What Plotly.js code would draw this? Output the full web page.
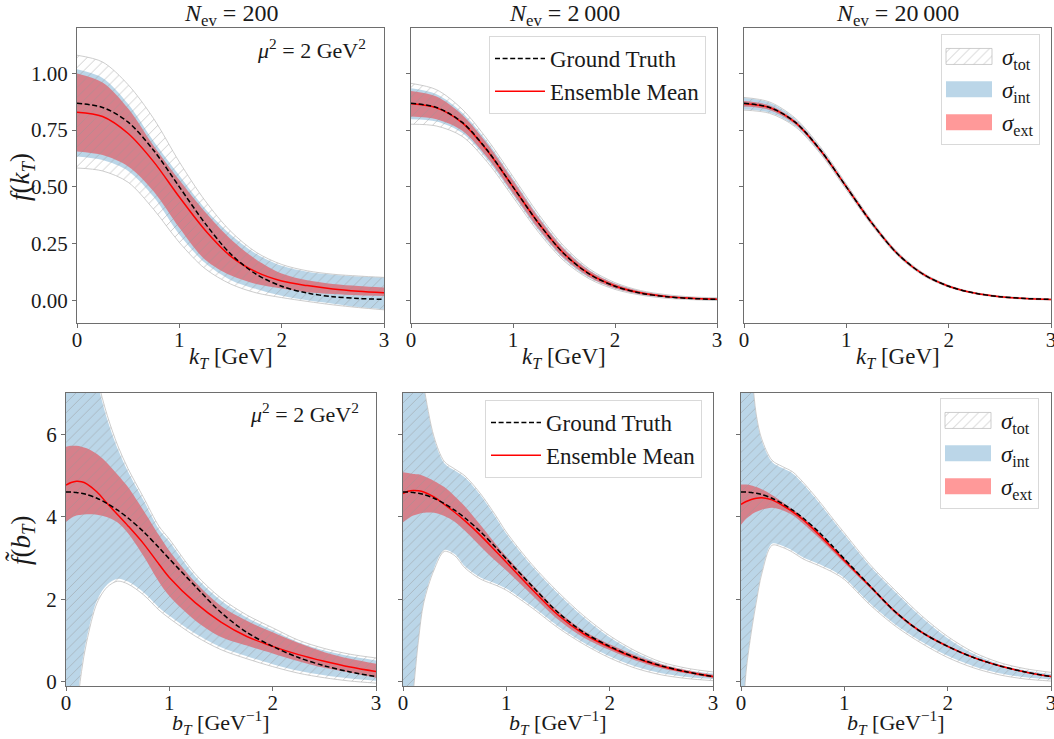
<!DOCTYPE html>
<html><head><meta charset="utf-8">
<script src="https://cdn.plot.ly/plotly-3.0.1.min.js"></script>
<style>html,body{margin:0;padding:0;background:#fff}</style>
</head><body>
<div id="chart" style="width:1054px;height:739px"></div>
<script>
// ---------- data ----------
const kT = [0,0.25,0.5,0.75,1,1.25,1.5,1.75,2,2.25,2.5,2.75,3];
const bT = [0,0.05,0.1,0.15,0.2,0.3,0.4,0.5,0.6,0.75,0.9,1.0,1.25,1.5,1.75,2.0,2.25,2.5,2.75,3.0];

const truthK = [0.868,0.850,0.785,0.660,0.500,0.340,0.205,0.115,0.062,0.032,0.016,0.008,0.004];
const truthB = [4.60,4.60,4.59,4.57,4.54,4.45,4.32,4.16,3.97,3.64,3.25,2.98,2.32,1.68,1.20,0.86,0.59,0.39,0.24,0.13];

// N_ev = 200, k_T space
const k200Mean  = [0.829,0.810,0.735,0.610,0.455,0.310,0.195,0.125,0.085,0.065,0.050,0.040,0.033];
const k200ExtHi = [1.000,0.960,0.845,0.680,0.530,0.390,0.270,0.180,0.118,0.088,0.072,0.063,0.056];
const k200ExtLo = [0.656,0.640,0.590,0.480,0.320,0.180,0.110,0.072,0.052,0.036,0.028,0.022,0.019];
const k200IntHi = [1.018,0.980,0.865,0.700,0.550,0.405,0.290,0.205,0.152,0.126,0.113,0.105,0.100];
const k200IntLo = [0.634,0.618,0.570,0.455,0.290,0.165,0.090,0.050,0.020,0.000,-0.015,-0.030,-0.040];
const k200TotHi = [1.080,1.050,0.950,0.800,0.610,0.440,0.305,0.212,0.158,0.130,0.115,0.107,0.101];
const k200TotLo = [0.583,0.570,0.520,0.400,0.255,0.140,0.072,0.033,0.012,-0.005,-0.020,-0.032,-0.042];

// N_ev = 2000, k_T space
const k2kMean  = [0.866,0.848,0.783,0.658,0.500,0.340,0.206,0.116,0.063,0.033,0.017,0.009,0.005];
const k2kExtHi = [0.922,0.898,0.818,0.688,0.528,0.365,0.226,0.130,0.073,0.040,0.022,0.013,0.009];
const k2kExtLo = [0.810,0.798,0.748,0.628,0.472,0.315,0.186,0.102,0.053,0.026,0.012,0.005,0.001];
const k2kIntHi = [0.934,0.908,0.828,0.698,0.536,0.372,0.231,0.134,0.075,0.041,0.023,0.014,0.010];
const k2kIntLo = [0.798,0.788,0.738,0.618,0.464,0.308,0.181,0.098,0.051,0.025,0.011,0.004,0.000];
const k2kTotHi = [0.956,0.928,0.843,0.708,0.545,0.380,0.238,0.138,0.078,0.043,0.025,0.015,0.011];
const k2kTotLo = [0.776,0.768,0.723,0.608,0.455,0.300,0.174,0.094,0.048,0.023,0.009,0.003,-0.001];

// N_ev = 20000, k_T space
const k20kMean  = [0.866,0.849,0.784,0.659,0.500,0.340,0.205,0.115,0.062,0.032,0.016,0.008,0.004];
const k20kExtHi = [0.878,0.859,0.792,0.666,0.506,0.345,0.209,0.118,0.065,0.034,0.018,0.010,0.006];
const k20kExtLo = [0.854,0.839,0.776,0.652,0.494,0.335,0.201,0.112,0.059,0.030,0.014,0.006,0.002];
const k20kIntHi = [0.891,0.871,0.800,0.671,0.510,0.348,0.211,0.119,0.065,0.034,0.018,0.010,0.006];
const k20kIntLo = [0.841,0.827,0.768,0.647,0.490,0.332,0.199,0.111,0.059,0.030,0.014,0.006,0.002];
const k20kTotHi = [0.894,0.874,0.803,0.674,0.513,0.350,0.213,0.121,0.066,0.035,0.019,0.011,0.007];
const k20kTotLo = [0.838,0.824,0.765,0.644,0.487,0.330,0.197,0.109,0.058,0.029,0.013,0.005,0.001];

// N_ev = 200, b_T space
const b200Mean  = [4.77,4.83,4.86,4.85,4.80,4.60,4.32,4.05,3.78,3.35,2.85,2.53,1.92,1.45,1.10,0.86,0.66,0.50,0.36,0.25];
const b200ExtHi = [5.70,5.72,5.72,5.70,5.66,5.52,5.30,5.02,4.72,4.15,3.55,3.18,2.42,1.84,1.48,1.20,0.94,0.72,0.56,0.44];
const b200ExtLo = [3.88,3.97,4.03,4.05,4.06,4.05,3.99,3.86,3.60,3.05,2.42,2.08,1.49,1.09,0.88,0.69,0.50,0.34,0.22,0.10];
const b200IntHi = [12.0,10.8,9.6,8.7,8.0,7.25,6.35,5.65,5.10,4.40,3.70,3.40,2.56,1.97,1.56,1.25,0.96,0.76,0.62,0.52];
const b200IntLo = [-2.5,-1.6,-0.6,0.35,1.05,1.98,2.36,2.50,2.43,2.17,1.80,1.60,1.17,0.84,0.62,0.43,0.27,0.16,0.08,0.03];
const b200TotHi = [12.2,11.0,9.8,8.9,8.2,7.35,6.45,5.73,5.17,4.47,3.77,3.46,2.62,2.03,1.62,1.31,1.01,0.81,0.67,0.58];
const b200TotLo = [-2.7,-1.8,-0.8,0.25,0.97,1.91,2.30,2.44,2.37,2.11,1.74,1.54,1.11,0.78,0.56,0.37,0.21,0.10,0.02,-0.03];

// N_ev = 2000, b_T space
const b2kMean  = [4.56,4.62,4.64,4.63,4.60,4.48,4.30,4.11,3.90,3.55,3.16,2.90,2.24,1.62,1.16,0.84,0.58,0.38,0.24,0.13];
const b2kExtHi = [5.08,5.06,5.04,5.03,4.99,4.87,4.72,4.50,4.25,3.80,3.33,3.04,2.36,1.72,1.24,0.91,0.64,0.43,0.28,0.17];
const b2kExtLo = [3.87,3.96,4.03,4.07,4.10,4.10,4.02,3.88,3.66,3.28,2.92,2.70,2.10,1.51,1.07,0.77,0.52,0.33,0.20,0.09];
const b2kIntHi = [11.0,10.0,9.0,8.0,7.15,5.90,5.30,5.12,4.95,4.52,3.98,3.59,2.80,2.14,1.56,1.08,0.71,0.44,0.29,0.20];
const b2kIntLo = [-3.0,-1.6,-0.2,1.05,1.95,2.75,3.20,3.10,2.80,2.53,2.38,2.26,1.83,1.35,0.95,0.62,0.37,0.21,0.12,0.07];
const b2kTotHi = [11.04,10.04,9.04,8.04,7.19,5.94,5.34,5.16,4.99,4.56,4.02,3.63,2.84,2.18,1.60,1.12,0.75,0.48,0.33,0.24];
const b2kTotLo = [-3.04,-1.64,-0.24,1.01,1.91,2.71,3.16,3.06,2.76,2.49,2.34,2.22,1.79,1.31,0.91,0.58,0.33,0.17,0.08,0.03];

// N_ev = 20000, b_T space
const b20kMean  = [4.30,4.37,4.42,4.45,4.46,4.41,4.28,4.12,3.93,3.58,3.20,2.94,2.31,1.68,1.20,0.86,0.59,0.39,0.24,0.13];
const b20kExtHi = [4.78,4.78,4.76,4.72,4.67,4.53,4.36,4.18,3.99,3.64,3.25,2.99,2.35,1.72,1.23,0.89,0.61,0.41,0.26,0.15];
const b20kExtLo = [3.81,3.95,4.05,4.12,4.17,4.22,4.16,4.04,3.84,3.50,3.13,2.88,2.27,1.64,1.17,0.83,0.57,0.37,0.22,0.11];
const b20kIntHi = [10.5,9.2,7.6,6.4,5.85,5.33,5.18,5.05,4.80,4.36,3.88,3.57,2.80,2.16,1.56,1.06,0.68,0.43,0.28,0.19];
const b20kIntLo = [-1.5,0.3,1.25,2.0,2.65,3.35,3.30,3.18,3.02,2.86,2.68,2.52,1.90,1.38,0.97,0.63,0.38,0.21,0.11,0.06];
const b20kTotHi = [10.54,9.24,7.64,6.44,5.89,5.37,5.22,5.09,4.84,4.40,3.92,3.61,2.84,2.20,1.60,1.10,0.72,0.47,0.32,0.23];
const b20kTotLo = [-1.54,0.26,1.21,1.96,2.61,3.31,3.26,3.14,2.98,2.82,2.64,2.48,1.86,1.34,0.93,0.59,0.34,0.17,0.07,0.02];

const panelTitles = ['<i>N</i><sub>ev</sub> = 200', '<i>N</i><sub>ev</sub> = 2\u2009000', '<i>N</i><sub>ev</sub> = 20\u2009000'];
const kTickVals = [0, 0.25, 0.5, 0.75, 1.0];
const kTickText = ['0.00', '0.25', '0.50', '0.75', '1.00'];
const bTickVals = [0, 2, 4, 6];
const xTickVals = [0, 1, 2, 3];

// ---------- styling / layout helpers ----------
const FONT = 'Liberation Serif, Times New Roman, serif';
const W = 1054, H = 739;
const P = px => px / W;
const Q = py => 1 - py / H;
const SM = 0.9;

const panels = [
  {x0:77,  x1:384,  y0:28,  y1:323, row:'k'},
  {x0:411, x1:717,  y0:28,  y1:323, row:'k'},
  {x0:744, x1:1051, y0:28,  y1:323, row:'k'},
  {x0:66,  x1:376,  y0:393, y1:686, row:'b'},
  {x0:403, x1:713,  y0:393, y1:686, row:'b'},
  {x0:741, x1:1051, y0:393, y1:686, row:'b'}
];

const bandStyle = {
  int: {fillcolor:'rgba(31,119,180,0.3)', line:{width:0, color:'rgba(31,119,180,0.3)'}},
  ext: {fillcolor:'rgba(255,0,0,0.4)', line:{width:0, color:'rgba(255,0,0,0.4)'}},
  tot: {fillcolor:'rgba(0,0,0,0)', fillpattern:{shape:'/', fgcolor:'rgba(150,150,150,0.55)', bgcolor:'rgba(0,0,0,0)', size:7, solidity:0.12},
        line:{width:0.8, color:'rgba(185,185,185,0.9)'}}
};
const bandNames = {tot:'<i>σ</i><sub>tot</sub>', int:'<i>σ</i><sub>int</sub>', ext:'<i>σ</i><sub>ext</sub>'};
const bandRank = {tot:1, int:2, ext:3};

const traces = [];
function addBand(i, x, lo, hi, kind, legendId) {
  const ax = i === 0 ? '' : String(i + 1);
  const st = bandStyle[kind];
  traces.push({x:x, y:lo, xaxis:'x'+ax, yaxis:'y'+ax, mode:'lines', hoverinfo:'skip', showlegend:false,
    line:Object.assign({}, st.line, {shape:'spline', smoothing:SM})});
  const t = {x:x, y:hi, xaxis:'x'+ax, yaxis:'y'+ax, mode:'lines', hoverinfo:'skip', fill:'tonexty',
    fillcolor:st.fillcolor, line:Object.assign({}, st.line, {shape:'spline', smoothing:SM}),
    name:bandNames[kind], showlegend:!!legendId, legendrank:bandRank[kind]};
  if (st.fillpattern) t.fillpattern = st.fillpattern;
  if (legendId) t.legend = legendId;
  traces.push(t);
}
function addLines(i, x, truth, mean, legendId) {
  const ax = i === 0 ? '' : String(i + 1);
  const m = {x:x, y:mean, xaxis:'x'+ax, yaxis:'y'+ax, mode:'lines', name:'Ensemble Mean',
    line:{color:'#ff0000', width:1.5, shape:'spline', smoothing:SM}, showlegend:!!legendId, legendrank:2};
  const g = {x:x, y:truth, xaxis:'x'+ax, yaxis:'y'+ax, mode:'lines', name:'Ground Truth',
    line:{color:'#000000', width:1.5, dash:'5px,2.6px', shape:'spline', smoothing:SM}, showlegend:!!legendId, legendrank:1};
  if (legendId) { m.legend = legendId; g.legend = legendId; }
  traces.push(m, g);
}

const sets = [
  {x:kT, truth:truthK, mean:k200Mean, e:[k200ExtLo,k200ExtHi], n:[k200IntLo,k200IntHi], t:[k200TotLo,k200TotHi]},
  {x:kT, truth:truthK, mean:k2kMean,  e:[k2kExtLo,k2kExtHi],   n:[k2kIntLo,k2kIntHi],   t:[k2kTotLo,k2kTotHi]},
  {x:kT, truth:truthK, mean:k20kMean, e:[k20kExtLo,k20kExtHi], n:[k20kIntLo,k20kIntHi], t:[k20kTotLo,k20kTotHi]},
  {x:bT, truth:truthB, mean:b200Mean, e:[b200ExtLo,b200ExtHi], n:[b200IntLo,b200IntHi], t:[b200TotLo,b200TotHi]},
  {x:bT, truth:truthB, mean:b2kMean,  e:[b2kExtLo,b2kExtHi],   n:[b2kIntLo,b2kIntHi],   t:[b2kTotLo,b2kTotHi]},
  {x:bT, truth:truthB, mean:b20kMean, e:[b20kExtLo,b20kExtHi], n:[b20kIntLo,b20kIntHi], t:[b20kTotLo,b20kTotHi]}
];
const bandLegend = {2:'legend2', 5:'legend4'};
const lineLegend = {1:'legend', 4:'legend3'};

sets.forEach((s, i) => {
  addBand(i, s.x, s.n[0], s.n[1], 'int', bandLegend[i]);
  addBand(i, s.x, s.e[0], s.e[1], 'ext', bandLegend[i]);
  addBand(i, s.x, s.t[0], s.t[1], 'tot', bandLegend[i]);
  addLines(i, s.x, s.truth, s.mean, lineLegend[i]);
});

const AX = '#6e6e6e';
const TXT = '#1a1a1a';
const layout = {
  width:W, height:H, margin:{l:0, r:0, t:0, b:0},
  paper_bgcolor:'#ffffff', plot_bgcolor:'#ffffff',
  font:{family:FONT, size:20, color:TXT},
  annotations:[]
};
panels.forEach((p, i) => {
  const ax = i === 0 ? '' : String(i + 1);
  layout['xaxis'+ax] = {domain:[P(p.x0), P(p.x1)], range:[0,3], anchor:'y'+ax,
    tickvals:xTickVals, ticks:'outside', ticklen:4, tickwidth:1, tickcolor:AX,
    showline:true, mirror:true, linecolor:AX, linewidth:1, showgrid:false, zeroline:false,
    ticklabelstandoff:-6, ticklabeloverflow:'allow',
    tickfont:{family:FONT, size:21, color:TXT}, automargin:false, fixedrange:true};
  const isK = p.row === 'k';
  layout['yaxis'+ax] = {domain:[Q(p.y1), Q(p.y0)], range: isK ? [-0.1, 1.2] : [-0.1, 7.0], anchor:'x'+ax,
    tickvals: isK ? kTickVals : bTickVals, ticktext: isK ? kTickText : bTickVals.map(String),
    showticklabels: i % 3 === 0, ticks:'outside', ticklen:4, tickwidth:1, tickcolor:AX,
    showline:true, mirror:true, linecolor:AX, linewidth:1, showgrid:false, zeroline:false,
    tickfont:{family:FONT, size:21, color:TXT}, automargin:false, fixedrange:true};
  const cx = P((p.x0 + p.x1) / 2);
  // x-axis titles
  layout.annotations.push({xref:'paper', yref:'paper', x:cx, y:Q(isK ? 358 : 722), xanchor:'center', yanchor:'middle',
    showarrow:false, font:{family:FONT, size:isK ? 23 : 22, color:TXT},
    text: isK ? '<i>k</i><sub><i>T</i></sub> [GeV]' : '<i>b</i><sub><i>T</i></sub> [GeV<sup>−1</sup>]'});
  if (isK) {
    layout.annotations.push({xref:'paper', yref:'paper', x:cx, y:Q(15), xanchor:'center', yanchor:'middle',
      showarrow:false, font:{family:FONT, size:24, color:TXT}, text:panelTitles[i]});
  }
});
// y-axis titles
layout.annotations.push({xref:'paper', yref:'paper', x:P(22), y:Q(177), xanchor:'center', yanchor:'middle', textangle:-90,
  showarrow:false, font:{family:FONT, size:27, color:TXT}, text:'<i>f</i>(<i>k</i><sub><i>T</i></sub>)'});
layout.annotations.push({xref:'paper', yref:'paper', x:P(22), y:Q(540), xanchor:'center', yanchor:'middle', textangle:-90,
  showarrow:false, font:{family:FONT, size:27, color:TXT}, text:'<i>f\u0303</i>(<i>b</i><sub><i>T</i></sub>)'});
// scale annotations
layout.annotations.push({xref:'paper', yref:'paper', x:P(368), y:Q(49), xanchor:'right', yanchor:'middle',
  showarrow:false, font:{family:FONT, size:22, color:TXT}, text:'<i>μ</i><sup>2</sup> = 2 GeV<sup>2</sup>'});
layout.annotations.push({xref:'paper', yref:'paper', x:P(361), y:Q(413), xanchor:'right', yanchor:'middle',
  showarrow:false, font:{family:FONT, size:22, color:TXT}, text:'<i>μ</i><sup>2</sup> = 2 GeV<sup>2</sup>'});

const legendBase = {bgcolor:'rgba(255,255,255,0.85)', bordercolor:'#d9d9d9', borderwidth:1,
  font:{family:FONT, size:23, color:TXT}, itemwidth:50, xanchor:'right', yanchor:'top', traceorder:'normal'};
layout.legend  = Object.assign({}, legendBase, {x:P(706),  y:Q(36)});
layout.legend2 = Object.assign({}, legendBase, {x:P(1040), y:Q(34)});
layout.legend3 = Object.assign({}, legendBase, {x:P(702),  y:Q(400)});
layout.legend4 = Object.assign({}, legendBase, {x:P(1039), y:Q(398)});

Plotly.newPlot('chart', traces, layout, {displayModeBar:false, staticPlot:true}).then(gd => {
  // make band legend swatches full rectangles (patch-style swatches)
  gd.querySelectorAll('.infolayer g.traces').forEach(tr => {
    const f = tr.querySelector('.legendfill path');
    if (f && f.getAttribute('d')) {
      const rect = 'M4,-8h46v16h-46z';
      f.setAttribute('d', rect);
      const l = tr.querySelector('.legendlines path');
      if (l) l.setAttribute('d', rect);
    }
  });
});
</script>
</body></html>
